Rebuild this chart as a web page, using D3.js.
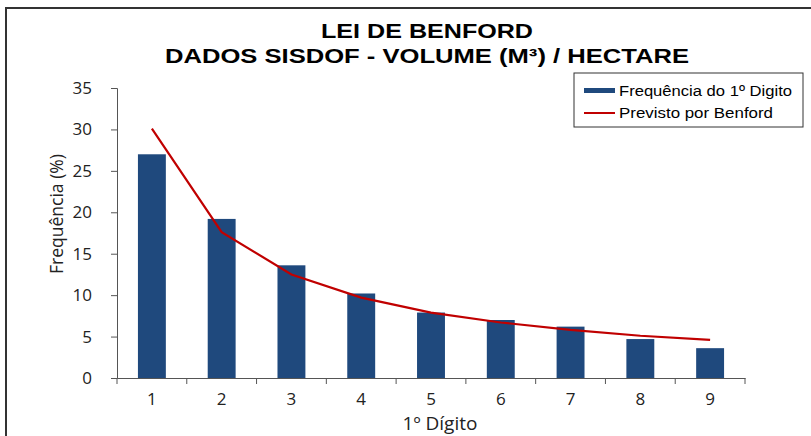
<!DOCTYPE html>
<html>
<head>
<meta charset="utf-8">
<script src="https://cdn.jsdelivr.net/npm/d3@7"></script>
<style>
  body { margin: 0; background: #fff; }
  svg { display: block; }
</style>
</head>
<body>
<svg id="chart" width="811" height="436"></svg>
<script>
const digits = ["1", "2", "3", "4", "5", "6", "7", "8", "9"];
const observed = [27.0, 19.2, 13.6, 10.2, 7.9, 7.0, 6.2, 4.7, 3.6];
const benford = [30.1, 17.6, 12.5, 9.7, 7.9, 6.7, 5.8, 5.1, 4.6];
const yTicks = [0, 5, 10, 15, 20, 25, 30, 35];

const svg = d3.select("#chart");
const width = +svg.attr("width");
const height = +svg.attr("height");

// moldura do gráfico (só aparecem topo e esquerda)
svg.append("rect")
    .attr("x", 6).attr("y", 8)
    .attr("width", width + 20).attr("height", height + 20)
    .attr("fill", "#fff")
    .attr("stroke", "#333")
    .attr("stroke-width", 2);

const x = d3.scaleBand().domain(digits).range([117, 745]).paddingInner(0).paddingOuter(0);
const y = d3.scaleLinear().domain([0, 35]).range([378, 88]);
const barW = x.bandwidth() * 0.4;

// título (esticado na horizontal como no original)
svg.append("text")
    .attr("x", 427).attr("y", 38)
    .attr("text-anchor", "middle")
    .attr("textLength", 212).attr("lengthAdjust", "spacingAndGlyphs")
    .style("font", "bold 21px 'Liberation Sans', Arial, sans-serif")
    .text("LEI DE BENFORD");
svg.append("text")
    .attr("x", 427).attr("y", 63)
    .attr("text-anchor", "middle")
    .attr("textLength", 524).attr("lengthAdjust", "spacingAndGlyphs")
    .style("font", "bold 21px 'Liberation Sans', Arial, sans-serif")
    .text("DADOS SISDOF - VOLUME (M³) / HECTARE");

// barras
svg.append("g")
    .selectAll("rect")
    .data(observed)
    .enter().append("rect")
    .attr("x", (d, i) => x(digits[i]) + (x.bandwidth() - barW) / 2)
    .attr("y", d => y(d))
    .attr("width", barW)
    .attr("height", d => y(0) - y(d))
    .attr("fill", "#1f497d");

// eixo y
const yAxis = svg.append("g")
    .attr("transform", "translate(117,0)")
    .call(d3.axisLeft(y).tickValues(yTicks).tickSize(6).tickPadding(19));
yAxis.select(".domain").attr("stroke", "#555");
yAxis.selectAll(".tick line").attr("stroke", "#555");
yAxis.selectAll("text")
    .style("font", "17px 'Open Sans', sans-serif")
    .attr("fill", "#222");

// eixo x
const xAxis = svg.append("g")
    .attr("transform", "translate(0,378)")
    .call(d3.axisBottom(x).tickSize(0).tickPadding(15));
xAxis.select(".domain").attr("stroke", "#555");
xAxis.selectAll("text")
    .style("font", "17px 'Open Sans', sans-serif")
    .attr("fill", "#222");
// marcas entre as categorias
xAxis.selectAll(".sep")
    .data(digits.concat(["end"]))
    .enter().append("line")
    .attr("x1", (d, i) => i < digits.length ? x(d) : x(digits[digits.length - 1]) + x.bandwidth())
    .attr("x2", (d, i) => i < digits.length ? x(d) : x(digits[digits.length - 1]) + x.bandwidth())
    .attr("y1", 0).attr("y2", 6)
    .attr("stroke", "#555");

// linha de Benford
const line = d3.line()
    .x((d, i) => x(digits[i]) + x.bandwidth() / 2)
    .y(d => y(d));
svg.append("path")
    .datum(benford)
    .attr("d", line)
    .attr("fill", "none")
    .attr("stroke", "#c00000")
    .attr("stroke-width", 2.2);

// títulos dos eixos
svg.append("text")
    .attr("transform", "translate(63,214) rotate(-90)")
    .attr("text-anchor", "middle")
    .style("font", "17.5px 'Open Sans', sans-serif")
    .attr("fill", "#222")
    .text("Frequência (%)");
svg.append("text")
    .attr("x", 440).attr("y", 430)
    .attr("text-anchor", "middle")
    .style("font", "19px 'Open Sans', sans-serif")
    .attr("fill", "#222")
    .text("1º Dígito");

// legenda
const legend = svg.append("g").attr("transform", "translate(574,73)");
legend.append("rect")
    .attr("width", 229).attr("height", 54)
    .attr("fill", "#fff")
    .attr("stroke", "#333")
    .attr("stroke-width", 1);
legend.append("rect")
    .attr("x", 10).attr("y", 15)
    .attr("width", 31).attr("height", 5)
    .attr("fill", "#1f497d");
legend.append("line")
    .attr("x1", 10).attr("x2", 41)
    .attr("y1", 40).attr("y2", 40)
    .attr("stroke", "#c00000")
    .attr("stroke-width", 2);
legend.append("text")
    .attr("x", 45).attr("y", 23)
    .attr("textLength", 173).attr("lengthAdjust", "spacingAndGlyphs")
    .style("font", "15.5px 'Liberation Sans', Arial, sans-serif")
    .text("Frequência do 1º Digito");
legend.append("text")
    .attr("x", 45).attr("y", 45)
    .attr("textLength", 154).attr("lengthAdjust", "spacingAndGlyphs")
    .style("font", "15.5px 'Liberation Sans', Arial, sans-serif")
    .text("Previsto por Benford");
</script>
</body>
</html>
